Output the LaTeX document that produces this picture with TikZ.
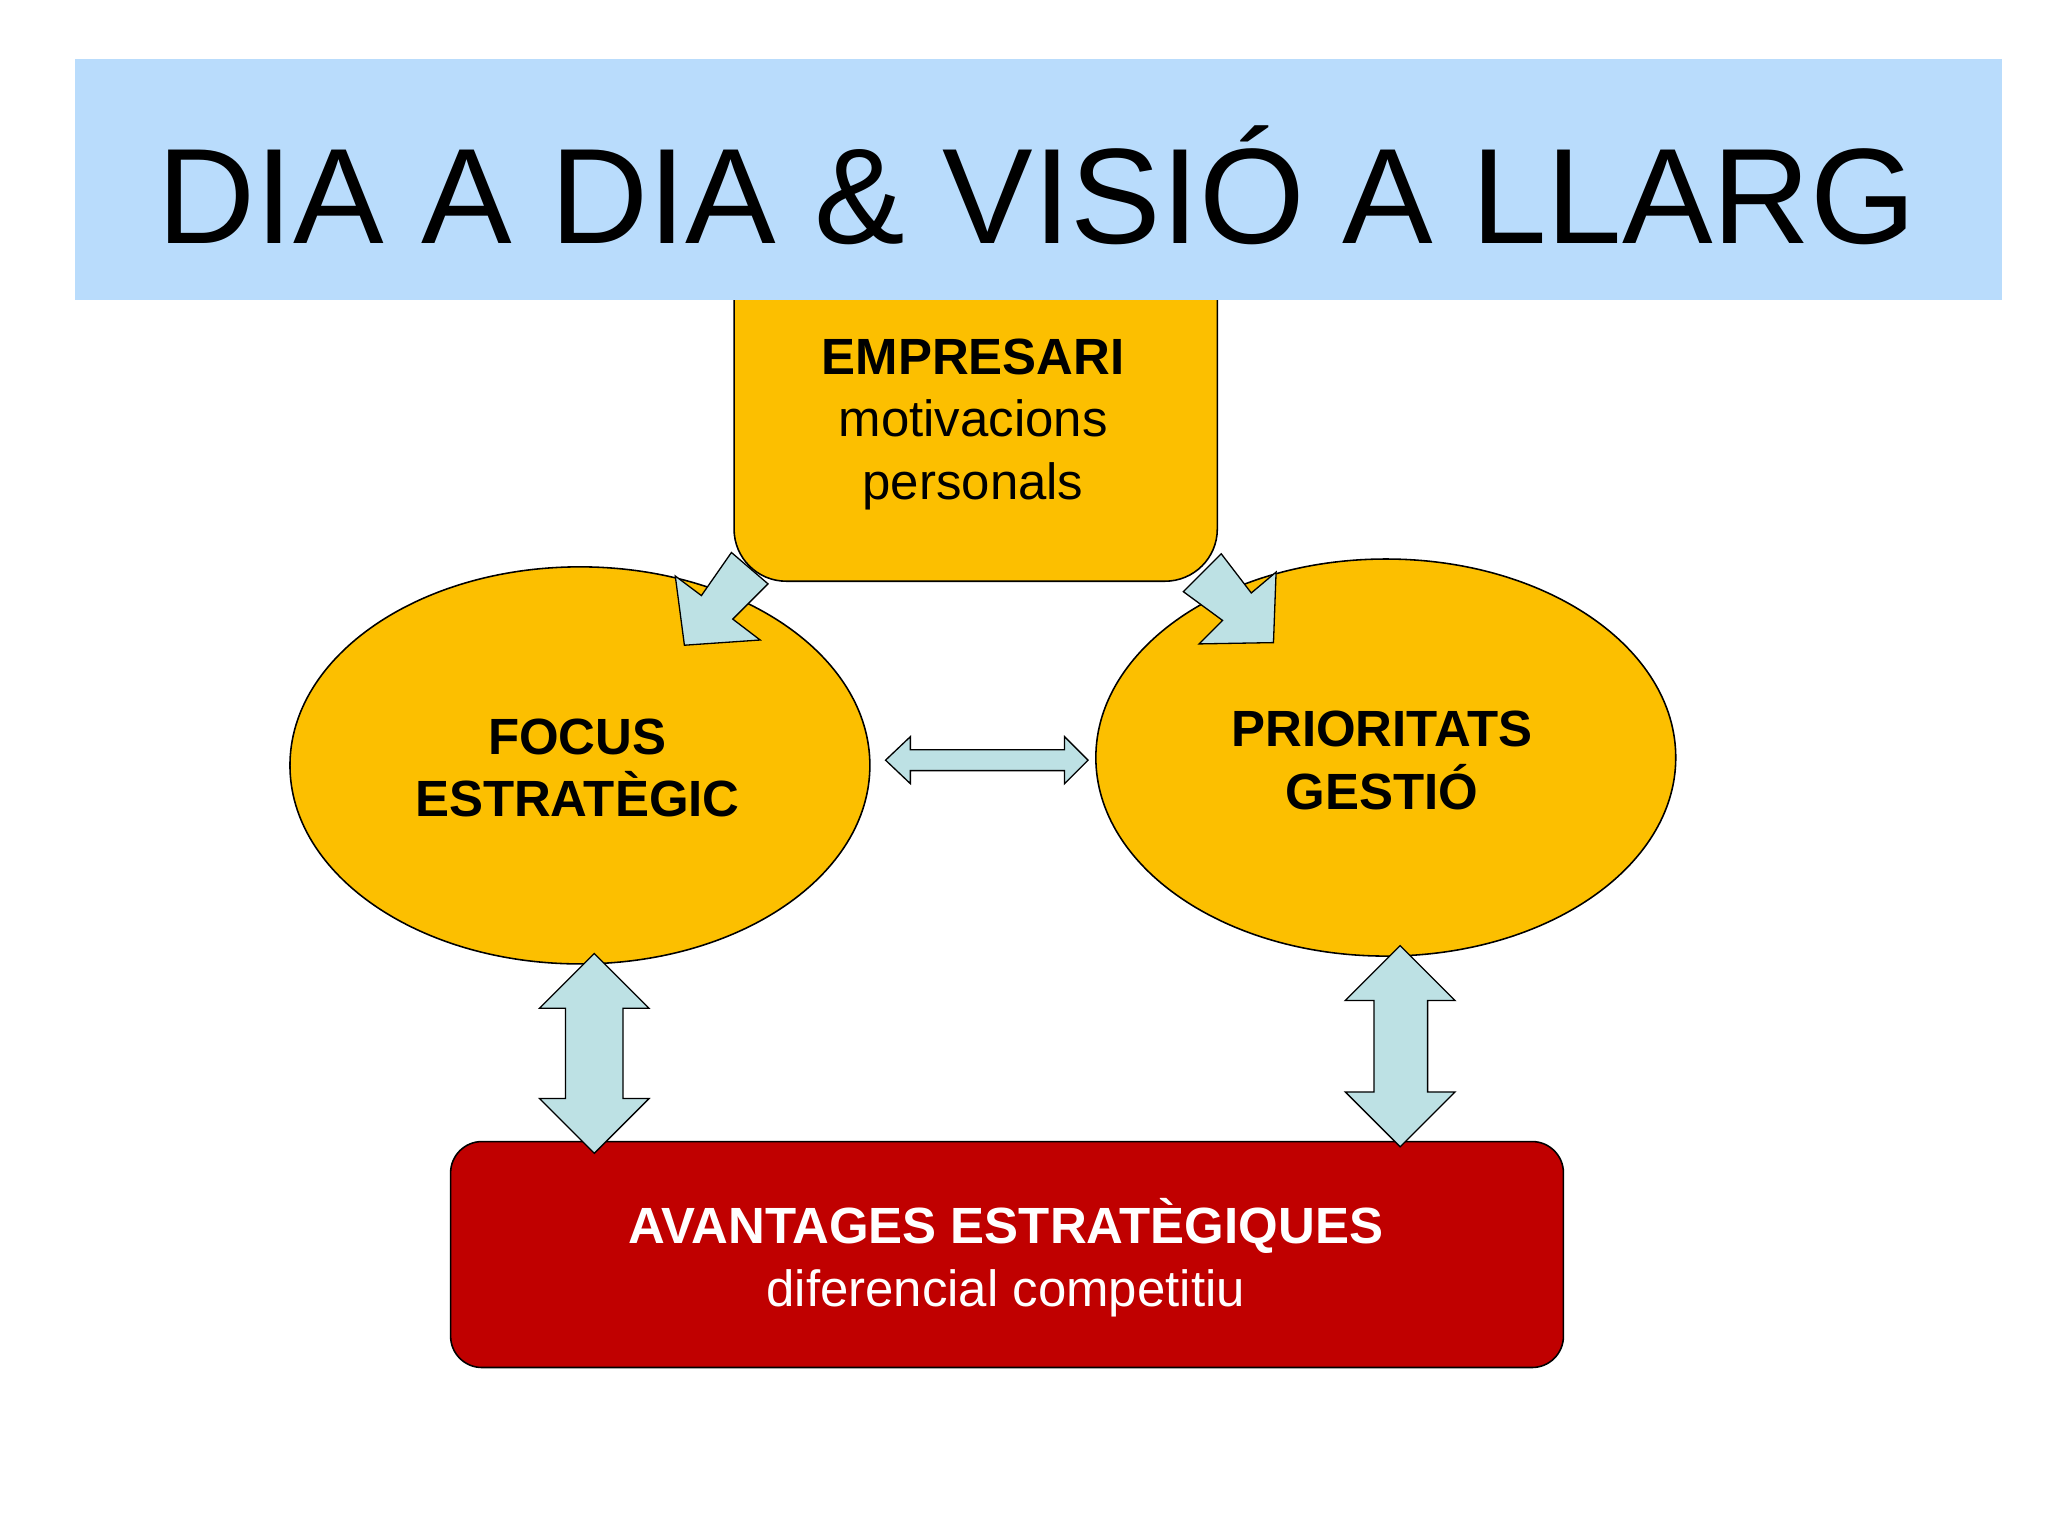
\documentclass[tikz,border=0pt]{standalone}
\usepackage{fontspec}
\setmainfont{Liberation Sans}
\definecolor{band}{HTML}{B9DCFC}
\definecolor{gold}{HTML}{FCBF00}
\definecolor{dred}{HTML}{C00000}
\definecolor{arr}{HTML}{BDE1E4}
\tikzset{
  blockarrow/.style={fill=arr,draw=black,line width=0.5pt,line join=miter},
  shapebox/.style={fill=gold,draw=black,line width=0.6pt},
  lbl/.style={align=center,font=\fontsize{19.5}{24}\selectfont,inner sep=0pt}
}
\begin{document}
\begin{tikzpicture}[x=0.5pt,y=-0.5pt]
\useasboundingbox[fill=white] (0,0) rectangle (1568,1176);
% empresari box (behind band)
\draw[shapebox,rounded corners=20pt] (562,180) rectangle (932,445);
\node[fill=band,minimum width=737.5pt,minimum height=92pt,inner sep=0pt,anchor=north west] (band) at (57,45) {};
\node[font=\fontsize{52}{60}\selectfont,inner sep=0pt] (title) at (794,142) {DIA A DIA \& VISIÓ A LLARG};
\node[lbl] (emp) at (745,325) {\textbf{EMPRESARI}\\motivacions\\personals};
% ellipses
\draw[shapebox] (444,586) ellipse [x radius=222,y radius=152];
\draw[shapebox] (1061,580) ellipse [x radius=222,y radius=152];
\node[lbl,font=\fontsize{19.5}{24}\selectfont\bfseries] (focus) at (442,588) {FOCUS\\ESTRATÈGIC};
\node[lbl,font=\fontsize{19.5}{24}\selectfont\bfseries] (prio) at (1058,582) {PRIORITATS\\GESTIÓ};
% red box
\draw[fill=dred,draw=black,line width=0.6pt,rounded corners=12pt] (345,874) rectangle (1197,1047);
\node[lbl,text=white] (avant) at (770,963) {\textbf{AVANTAGES ESTRATÈGIQUES}\\diferencial competitiu};
% diagonal arrows
\draw[blockarrow] (560,423)--(537,456)--(517,441)--(524,494)--(582,490)--(561,474)--(588,447)--cycle;
\draw[blockarrow] (935,424)--(958,454)--(977,438)--(975,492)--(918,493)--(936,475)--(906,453)--cycle;
% horizontal double arrow
\draw[blockarrow] (678,582)--(697,564)--(697,574)--(815,574)--(815,564)--(833,582)--(815,600)--(815,590)--(697,590)--(697,600)--cycle;
% vertical double arrows
\draw[blockarrow] (455,730)--(497,772)--(477,772)--(477,841)--(497,841)--(455,883)--(413,841)--(433,841)--(433,772)--(413,772)--cycle;
\draw[blockarrow] (1072,724)--(1114,766)--(1093,766)--(1093,836)--(1114,836)--(1072,878)--(1030,836)--(1052,836)--(1052,766)--(1030,766)--cycle;
\end{tikzpicture}
\end{document}
